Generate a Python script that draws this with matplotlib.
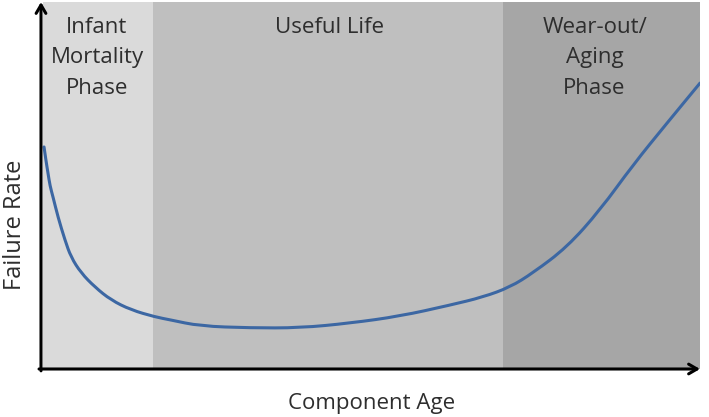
import matplotlib
matplotlib.use("Agg")
import matplotlib.pyplot as plt
from matplotlib.path import Path
from matplotlib.patches import PathPatch

# Data (component age, failure rate), arbitrary units 0-100
age = [0.46, 0.76, 1.06, 1.37, 1.82, 2.58, 3.64, 4.55, 6.07, 8.19, 10.62, 13.66,
       17.30, 19.58, 24.13, 31.71, 39.30, 46.89, 54.48, 62.06, 67.07, 71.17,
       74.66, 79.82, 84.83, 89.83, 94.99, 100.0]
rate = [60.5, 56.7, 53.4, 49.9, 46.9, 41.4, 35.1, 30.5, 26.2, 22.3, 18.8, 16.1,
        14.2, 13.4, 11.7, 11.2, 11.2, 12.5, 14.4, 17.4, 19.6, 22.3,
        26.2, 33.2, 43.3, 55.6, 67.0, 77.9]

phase_edges = [0.3, 17.0, 70.1, 100.0]
phase_labels = ["Infant\nMortality\nPhase", "Useful Life", "Wear-out/\nAging\nPhase"]
phase_colors = ["#dadada", "#bfbfbf", "#a6a6a6"]

x_label = "Component Age"
y_label = "Failure Rate"

# layout
W, H = 709, 417
label_x = [8.5, 43.8, 84.0]

fig = plt.figure(figsize=(W / 100, H / 100), dpi=100)
ax = fig.add_axes([41 / W, (H - 369) / H, 659 / W, 367 / H])
ax.set_xlim(0, 100)
ax.set_ylim(0, 100)
for s in ax.spines.values():
    s.set_visible(False)
ax.set_xticks([])
ax.set_yticks([])
ax.patch.set_alpha(0)

for i, lab in enumerate(phase_labels):
    ax.axvspan(phase_edges[i], phase_edges[i + 1], ymin=0, ymax=1,
               color=phase_colors[i], lw=0, zorder=0)
    ax.text(label_x[i], 96.0, lab, ha="center", va="top", fontsize=16,
            family="Open Sans", color="#2e2e2e", linespacing=1.6, zorder=3)

# smooth rendering of the read points (quadratic Bezier through midpoints)
pts = list(zip(age, rate))
verts = [pts[0]]
codes = [Path.MOVETO]
for i in range(1, len(pts) - 1):
    mid = ((pts[i][0] + pts[i + 1][0]) / 2, (pts[i][1] + pts[i + 1][1]) / 2)
    verts += [pts[i], mid]
    codes += [Path.CURVE3, Path.CURVE3]
verts.append(pts[-1])
codes.append(Path.LINETO)
ax.add_patch(PathPatch(Path(verts, codes), facecolor="none", edgecolor="#3c67a3",
                       lw=2.2, capstyle="round", joinstyle="round", zorder=2))

# axes arrows
arrow = dict(arrowstyle="->,head_length=0.6,head_width=0.35", color="black", lw=2.2,
             shrinkA=0, shrinkB=0)
ax.annotate("", xy=(0, 1.0), xytext=(0, -0.005), xycoords="axes fraction",
            arrowprops=arrow, zorder=4, annotation_clip=False)
ax.annotate("", xy=(1.0, 0), xytext=(-0.003, 0), xycoords="axes fraction",
            arrowprops=arrow, zorder=4, annotation_clip=False)

fig.text(372 / W, 1 - 403 / H, x_label, ha="center", va="center", fontsize=16,
         family="Open Sans", color="#2e2e2e")
fig.text(15 / W, 1 - 225 / H, y_label, ha="center", va="center", fontsize=17,
         family="Open Sans", color="#2e2e2e", rotation=90)

fig.savefig("out.png", dpi=100)
